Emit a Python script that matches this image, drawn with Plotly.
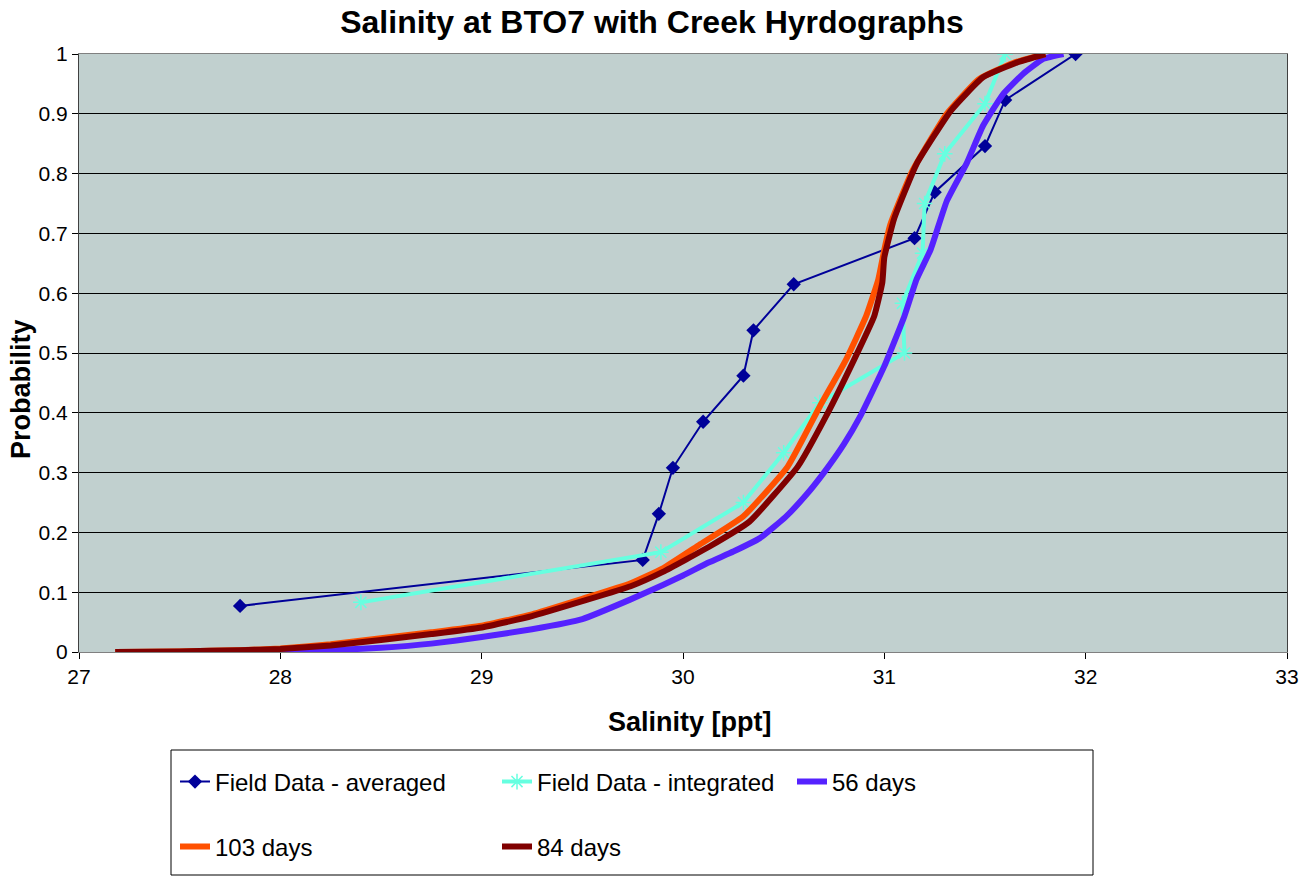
import plotly.graph_objects as go

# Field data - averaged
avg_x = [27.80, 29.80, 29.88, 29.95, 30.10, 30.30, 30.35, 30.55, 31.15, 31.25, 31.50, 31.60, 31.95]
avg_y = [0.077, 0.154, 0.231, 0.308, 0.385, 0.462, 0.538, 0.615, 0.692, 0.769, 0.846, 0.923, 1.000]

# Field data - integrated
int_x = [28.40, 29.89, 30.30, 30.50, 30.68, 31.10, 31.09, 31.19, 31.20, 31.30, 31.50, 31.60]
int_y = [0.083, 0.167, 0.250, 0.333, 0.417, 0.500, 0.583, 0.667, 0.750, 0.833, 0.917, 1.000]

# 56 days
d56_x = [27.86, 28.00, 28.25, 28.50, 28.75, 29.00, 29.25, 29.50, 29.74, 29.90, 30.00, 30.13, 30.25,
         30.38, 30.51, 30.61, 30.70, 30.80, 30.88, 31.00, 31.10, 31.16, 31.23, 31.31, 31.41, 31.49,
         31.59, 31.69, 31.79, 31.89]
d56_y = [0.000, 0.001, 0.003, 0.007, 0.014, 0.025, 0.038, 0.055, 0.088, 0.112, 0.128, 0.150, 0.168,
         0.190, 0.226, 0.262, 0.300, 0.348, 0.394, 0.478, 0.562, 0.623, 0.673, 0.754, 0.818, 0.880,
         0.933, 0.967, 0.992, 1.000]

# 103 days
d103_x = [27.18, 27.50, 27.80, 28.00, 28.25, 28.50, 28.75, 29.00, 29.25, 29.50, 29.74, 29.90, 30.08,
          30.30, 30.52, 30.68, 30.81, 30.91, 30.97, 31.00, 31.03, 31.14, 31.31, 31.47, 31.64, 31.80]
d103_y = [0.000, 0.001, 0.003, 0.006, 0.013, 0.023, 0.033, 0.044, 0.063, 0.089, 0.115, 0.140, 0.179,
          0.227, 0.310, 0.411, 0.489, 0.562, 0.623, 0.673, 0.715, 0.805, 0.900, 0.958, 0.985, 1.000]

# 84 days
d84_x = [27.18, 27.50, 27.80, 28.00, 28.25, 28.50, 28.75, 29.00, 29.25, 29.50, 29.74, 29.90, 30.13,
         30.33, 30.57, 30.71, 30.85, 30.95, 30.99, 31.00, 31.05, 31.16, 31.33, 31.49, 31.66, 31.80]
d84_y = [0.000, 0.001, 0.003, 0.005, 0.011, 0.020, 0.030, 0.041, 0.060, 0.085, 0.110, 0.134, 0.176,
         0.218, 0.310, 0.394, 0.489, 0.562, 0.618, 0.660, 0.726, 0.816, 0.905, 0.961, 0.986, 1.000]

x_ticks = [27, 28, 29, 30, 31, 32, 33]
y_ticks = [0, 0.1, 0.2, 0.3, 0.4, 0.5, 0.6, 0.7, 0.8, 0.9, 1]

FONT = "Liberation Sans"
LEG_FONT = dict(family=FONT, size=24, color="black")

W, H = 1304, 878
PL, PR, PT, PB = 79, 1287, 54, 652  # plot area in pixels


def px_x(px):
    return (px - PL) / (PR - PL)


def px_y(py):
    return (PB - py) / (PB - PT)


fig = go.Figure()
fig.add_trace(go.Scatter(x=avg_x, y=avg_y, mode="lines+markers", name="Field Data - averaged",
                         line=dict(color="#000099", width=2),
                         marker=dict(symbol="diamond", size=11, color="#000099"),
                         legend="legend", showlegend=True))
fig.add_trace(go.Scatter(x=int_x, y=int_y, mode="lines+markers", name="Field Data - integrated",
                         line=dict(color="#66FFE0", width=4),
                         marker=dict(symbol="asterisk-open", size=13, color="#66FFE0",
                                     line=dict(color="#66FFE0", width=1.5)),
                         legend="legend2", showlegend=True))
fig.add_trace(go.Scatter(x=d56_x, y=d56_y, mode="lines", name="56 days",
                         line=dict(color="#5522FF", width=6, shape="spline", smoothing=0.4),
                         legend="legend3", showlegend=True))
fig.add_trace(go.Scatter(x=d103_x, y=d103_y, mode="lines", name="103 days",
                         line=dict(color="#FF5000", width=6, shape="spline", smoothing=0.4),
                         legend="legend4", showlegend=True))
fig.add_trace(go.Scatter(x=d84_x, y=d84_y, mode="lines", name="84 days",
                         line=dict(color="#800000", width=6, shape="spline", smoothing=0.4),
                         legend="legend5", showlegend=True))


def leg(px, py):
    return dict(x=px / W, y=1 - py / H, xref="container", yref="container",
                xanchor="left", yanchor="middle", bgcolor="rgba(0,0,0,0)",
                borderwidth=0, font=LEG_FONT, itemwidth=30)


fig.update_layout(
    width=W, height=H,
    showlegend=True,
    margin=dict(l=PL, r=W - PR, t=PT, b=H - PB, autoexpand=False),
    paper_bgcolor="white",
    plot_bgcolor="#C1D0CF",
    title=dict(text="<b>Salinity at BTO7 with Creek Hyrdographs</b>",
               x=652 / W, xref="container", xanchor="center", y=1 - 22 / H, yanchor="middle",
               font=dict(family=FONT, size=32, color="black")),
    xaxis=dict(range=[27, 33], tickvals=x_ticks, ticktext=[str(v) for v in x_ticks],
               showgrid=False, zeroline=False, showline=True, linecolor="#808080",
               linewidth=1, mirror=True, ticks="outside", ticklen=6, tickcolor="black",
               tickfont=dict(family=FONT, size=21, color="black")),
    yaxis=dict(range=[0, 1], tickvals=y_ticks, ticktext=[f"{v:g}" for v in y_ticks],
               showgrid=True, gridcolor="black", gridwidth=1, zeroline=False,
               showline=True, linecolor="#404040", linewidth=1, mirror=True,
               ticks="outside", ticklen=6, tickcolor="black",
               tickfont=dict(family=FONT, size=21, color="black")),
    legend=leg(175, 782),
    legend2=leg(497, 782),
    legend3=leg(792, 782),
    legend4=leg(175, 847),
    legend5=leg(497, 847),
    annotations=[
        dict(text="<b>Salinity [ppt]</b>", xref="paper", yref="paper",
             x=px_x(690), y=px_y(722), xanchor="center", yanchor="middle", showarrow=False,
             font=dict(family=FONT, size=27, color="black")),
        dict(text="<b>Probability</b>", xref="paper", yref="paper",
             x=px_x(21), y=px_y(389), xanchor="center", yanchor="middle", showarrow=False,
             textangle=-90, font=dict(family=FONT, size=27, color="black")),
    ],
    shapes=[dict(type="rect", xref="paper", yref="paper",
                 x0=px_x(171), x1=px_x(1093), y0=px_y(875), y1=px_y(750),
                 line=dict(color="black", width=1), fillcolor="rgba(0,0,0,0)", layer="below")],
)

fig.write_html("out.html")
